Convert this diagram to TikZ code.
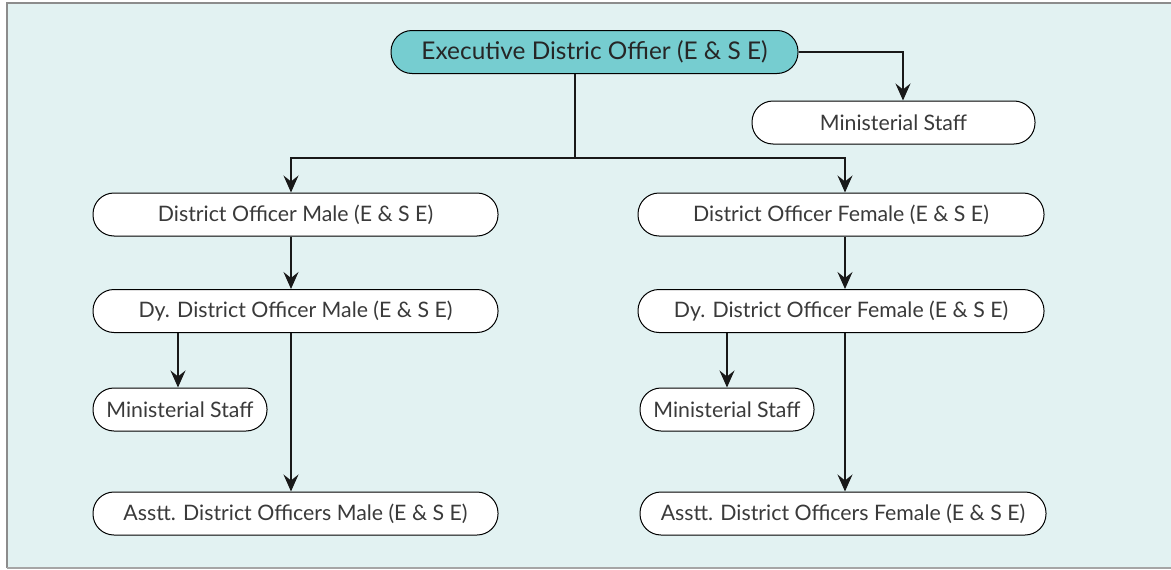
\documentclass[tikz,border=0pt]{standalone}
\usepackage{fontspec}
\setmainfont{Lato}
\usetikzlibrary{arrows.meta}
\definecolor{bgc}{HTML}{E2F2F2}
\definecolor{topc}{HTML}{76CDD0}
\definecolor{txt}{HTML}{3A3A3A}
\tikzset{
  box/.style={draw=black, line width=1pt, fill=white, rounded corners=21pt, minimum height=43pt, inner sep=0pt, text=txt, font=\fontsize{21.3}{24}\selectfont},
  topbox/.style={box, fill=topc, text=black!85, font=\fontsize{24.4}{28}\selectfont},
  conn/.style={draw=black!90, line width=1.8pt, -{Stealth[length=17pt, width=15pt, inset=6pt]}},
  plain/.style={draw=black!90, line width=1.8pt}
}
\begin{document}
\begin{tikzpicture}[x=1pt, y=-1pt]
\useasboundingbox (0,0) rectangle (1171,570);
\fill[bgc] (7,3) rectangle (1171,568);
\draw[black!45, line width=2pt] (7,568) -- (7,3) -- (1171,3);
\draw[black!35, line width=2pt] (7,568) -- (1171,568);

\node[topbox, minimum width=407pt] (top) at (594.5,52) {Executive Distric Offier (E \& S E)};
\node[box, minimum width=283pt] (msr) at (893.5,122.5) {Ministerial Staff};
\node[box, minimum width=405pt] (dom) at (295.5,214.5) {District Officer Male (E \& S E)};
\node[box, minimum width=406pt] (dof) at (841,214.5) {District Officer Female (E \& S E)};
\node[box, minimum width=405pt] (dym) at (295.5,311) {Dy. District Officer Male (E \& S E)};
\node[box, minimum width=406pt] (dyf) at (841,311) {Dy. District Officer Female (E \& S E)};
\node[box, minimum width=174pt] (msl) at (180,409.5) {Ministerial Staff};
\node[box, minimum width=174pt] (msf) at (727,409.5) {Ministerial Staff};
\node[box, minimum width=405pt] (asm) at (295.5,513.5) {Asstt. District Officers Male (E \& S E)};
\node[box, minimum width=406pt] (asf) at (843,513.5) {Asstt. District Officers Female (E \& S E)};

\coordinate (j) at (575,158);
\draw[conn] (top.east) -| (msr.north -| 903,0);
\draw[plain] (top.south -| j) -- (j);
\draw[conn] (j) -| (dom.north -| 291,0);
\draw[conn] (j) -| (dof.north -| 845,0);
\draw[conn] (dom.south -| 291,0) -- (dym.north -| 291,0);
\draw[conn] (dof.south -| 845,0) -- (dyf.north -| 845,0);
\draw[conn] (dym.south -| 178,0) -- (msl.north -| 178,0);
\draw[conn] (dym.south -| 291,0) -- (asm.north -| 291,0);
\draw[conn] (dyf.south -| 727,0) -- (msf.north -| 727,0);
\draw[conn] (dyf.south -| 845,0) -- (asf.north -| 845,0);
\end{tikzpicture}
\end{document}
